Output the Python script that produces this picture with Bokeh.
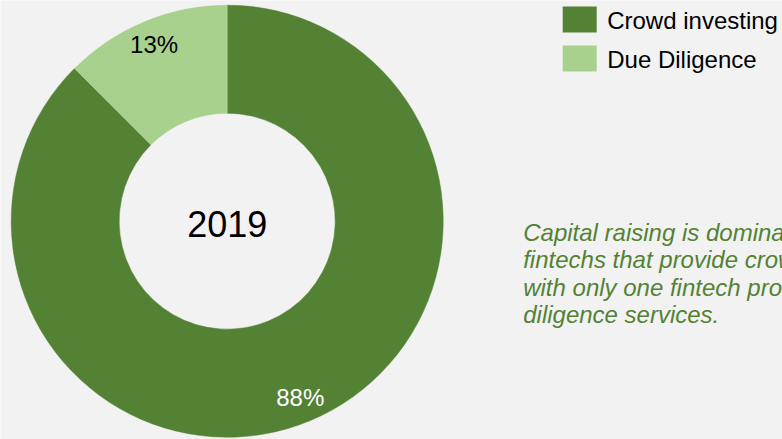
import numpy as np
from bokeh.plotting import figure
from bokeh.models import Range1d, ColumnDataSource
from bokeh.core.properties import value
from bokeh.embed import file_html
from bokeh.resources import INLINE

# ---- data ----
categories = ["Crowd investing", "Due Diligence"]
shares = [87.5, 12.5]
pct_labels = ["88%", "13%"]
year_label = "2019"
note_lines = [
    "Capital raising is dominated by",
    "fintechs that provide crowd investing,",
    "with only one fintech providing due",
    "diligence services.",
]

# ---- styling ----
colors = ["#548235", "#A9D18E"]
label_colors = ["#FFFFFF", "#000000"]
BG = "#F2F2F2"
FONT = "Liberation Sans"
FS = "24px"

W, H = 782, 439


def px(x):
    return x


def py(y):
    return H - y


cx, cy = px(226.7), py(220.7)
R_OUT, R_IN = 216, 108
LABEL_R = 191

frac = np.array(shares) / np.sum(shares)
cum = np.concatenate([[0.0], np.cumsum(frac)])
start = np.pi / 2 - cum[1:] * 2 * np.pi
end = np.pi / 2 - cum[:-1] * 2 * np.pi
mid = (start + end) / 2

src = ColumnDataSource(dict(
    cat=categories, start=start, end=end, color=colors,
    lx=cx + LABEL_R * np.cos(mid), ly=cy + LABEL_R * np.sin(mid),
    lab=pct_labels, lcol=label_colors,
))

p = figure(width=W, height=H, x_range=Range1d(0, W), y_range=Range1d(0, H),
           output_backend="svg", toolbar_location=None,
           x_axis_type=None, y_axis_type=None, min_border=0,
           background_fill_color=BG, border_fill_color=BG,
           outline_line_color=None)
p.grid.visible = False

p.annular_wedge(x=cx, y=cy, inner_radius=R_IN, outer_radius=R_OUT,
                start_angle="start", end_angle="end",
                fill_color="color", line_color="color", line_width=0.5,
                source=src)

p.text(x="lx", y="ly", text="lab", text_color="lcol", source=src,
       text_font=value(FONT), text_font_size=FS,
       text_align="center", text_baseline="middle")

p.text(x=[cx], y=[py(223.3)], text=[year_label], text_color="#000000",
       text_font=value(FONT), text_font_size="36px",
       text_align="center", text_baseline="middle")

# legend
sw_x = px(579.2)
sw_y = [py(18.9), py(57.9)]
p.rect(x=[sw_x] * 2, y=sw_y, width=34, height=26, fill_color=colors,
       line_color=None)
p.text(x=[px(606.7)] * 2, y=[py(20.0), py(59.2)], text=categories,
       text_color="#000000", text_font=value(FONT), text_font_size=FS,
       text_align="left", text_baseline="middle")

# note text
note_y = [py(231.7 + 27.5 * i) for i in range(len(note_lines))]
p.text(x=[px(522.7)] * len(note_lines), y=note_y, text=note_lines,
       text_color="#548235", text_font=value(FONT), text_font_size=FS,
       text_font_style="italic", text_align="left",
       text_baseline="middle")

html = file_html(p, INLINE)
html = html.replace(
    "<body>",
    '<body style="margin:0;padding:0;overflow:hidden;background-color:#F2F2F2;">',
    1)
open("out.html", "w").write(html)
